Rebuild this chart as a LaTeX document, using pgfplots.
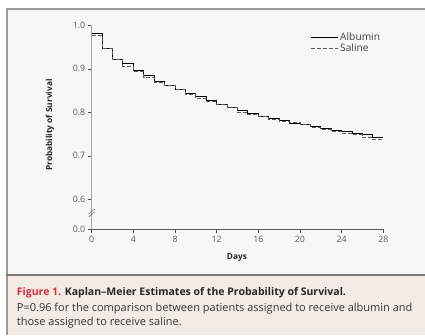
\documentclass[border=0pt]{standalone}
\usepackage{fontspec}
\setmainfont{Open Sans}
\usepackage{pgfplots}
\pgfplotsset{compat=1.18}
\definecolor{plotbg}{HTML}{F7F7F7}
\definecolor{capbg}{HTML}{F3ECE6}
\definecolor{framegray}{HTML}{9A9A9A}
\definecolor{capline}{HTML}{7A7A7A}
\definecolor{figred}{HTML}{DC2A3A}
\definecolor{ticktext}{HTML}{5A5A5A}
\definecolor{salinec}{HTML}{5A5A5A}
\begin{document}
\begin{tikzpicture}
\useasboundingbox (0pt,0pt) rectangle (425pt,335pt);
\fill[white] (0pt,0pt) rectangle (425pt,335pt);
\fill[plotbg] (6pt,60pt) rectangle (425pt,326pt);
\fill[capbg] (6pt,0pt) rectangle (425pt,60pt);
\draw[framegray, line width=2pt] (6pt,326pt) -- (425pt,326pt);
\draw[framegray, line width=1.6pt] (6.8pt,0pt) -- (6.8pt,327pt);
\draw[capline, line width=2pt] (6pt,60pt) -- (425pt,60pt);
\begin{axis}[
  at={(91.7pt,105.7pt)}, anchor=south west,
  scale only axis, width=291.6pt, height=204pt,
  xmin=0, xmax=28, ymin=0.531, ymax=1.0,
  axis x line*=bottom, axis y line*=left,
  x axis line style={color=black!65, line width=0.6pt},
  y axis line style={color=black!35, line width=0.8pt},
  xtick={0,4,8,12,16,20,24,28},
  xticklabels={0,4,8,12,16,20,24,28},
  ytick={0.531,0.6,0.7,0.8,0.9,1.0},
  yticklabels={0.0,0.6,0.7,0.8,0.9,1.0},
  tick align=outside, major tick length=3.5pt,
  tick style={color=black!70, line width=0.5pt},
  ticklabel style={font=\fontsize{8.8}{10}\selectfont, text=ticktext},
  yticklabel style={xshift=0.5pt},
  /pgf/number format/assume math mode=true,
  xlabel={\textbf{Days}},
  ylabel={\textbf{Probability of Survival}},
  label style={font=\fontsize{8.3}{9}\selectfont, text=black!85},
  xlabel style={at={(axis description cs:0.498,-0.136)}, anchor=center},
  ylabel style={at={(axis description cs:-0.143,0.511)}, anchor=center},
  legend style={at={(axis description cs:0.749,0.972)}, anchor=north west,
    draw=none, fill=none, font=\fontsize{10.2}{11}\selectfont, text=black!75,
    row sep=-2.5pt, inner sep=0pt},
  legend cell align=left,
  legend image code/.code={\draw[#1] (0pt,0pt) -- (27pt,0pt);},
  clip=false,
]
\addplot[const plot, black, line width=0.9pt] coordinates {
(0,0.981) (1,0.946) (2,0.922) (3,0.912) (4,0.896) (5,0.884) (6,0.870)
(7,0.862) (8,0.853) (9,0.843) (10,0.836) (11,0.827) (12,0.818) (13,0.812)
(14,0.804) (15,0.797) (16,0.791) (17,0.786) (18,0.781) (19,0.775) (20,0.772)
(21,0.767) (22,0.762) (23,0.758) (24,0.755) (25,0.752) (26,0.749) (27,0.742)
(28,0.742)};
\addlegendentry{Albumin}
\addplot[const plot, salinec, line width=0.9pt, dash pattern=on 4pt off 2pt] coordinates {
(0,0.976) (1,0.946) (2,0.922) (3,0.905) (4,0.893) (5,0.880) (6,0.868)
(7,0.862) (8,0.853) (9,0.841) (10,0.832) (11,0.826) (12,0.818) (13,0.810)
(14,0.800) (15,0.795) (16,0.790) (17,0.784) (18,0.780) (19,0.777) (20,0.771)
(21,0.765) (22,0.760) (23,0.757) (24,0.751) (25,0.748) (26,0.742) (27,0.737)
(28,0.737)};
\addlegendentry{Saline}
\draw[black!60, line width=0.5pt] (axis cs:0,0.5685) ++(-3pt,-4pt) -- ++(6pt,5pt);
\draw[black!60, line width=0.5pt] (axis cs:0,0.5685) ++(-3pt,-1pt) -- ++(6pt,5pt);
\end{axis}
\node[anchor=base west, inner sep=0pt, font=\fontsize{10.5}{11}\selectfont] at (16.7pt,39.5pt)
  {\textbf{\textcolor{figred}{Figure 1.} \textcolor{black!85}{Kaplan–Meier Estimates of the Probability of Survival.}}};
\node[anchor=base west, inner sep=0pt, font=\fontsize{11}{12}\selectfont, text=black!80] at (16.7pt,23.5pt)
  {P=0.96 for the comparison between patients assigned to receive albumin and};
\node[anchor=base west, inner sep=0pt, font=\fontsize{11}{12}\selectfont, text=black!80] at (16.7pt,9.5pt)
  {those assigned to receive saline.};
\end{tikzpicture}
\end{document}
